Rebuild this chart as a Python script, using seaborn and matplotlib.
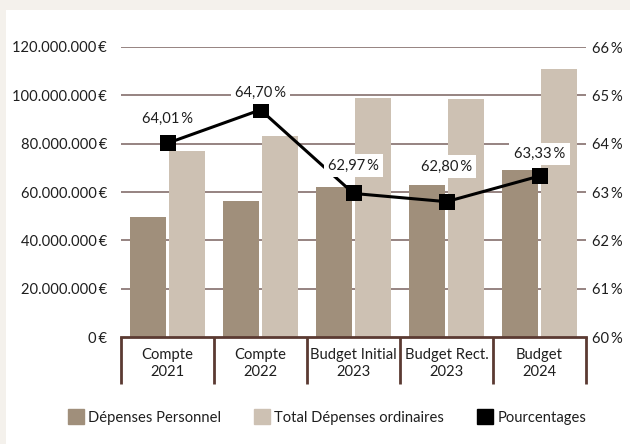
import matplotlib
matplotlib.use("Agg")
import matplotlib.pyplot as plt
import matplotlib.transforms as mtransforms
from matplotlib.patches import Rectangle, Patch
import seaborn as sns
import pandas as pd

categories = ["Compte\n2021", "Compte\n2022", "Budget Initial\n2023", "Budget Rect.\n2023", "Budget\n2024"]
depenses_personnel = [49.8e6, 56.3e6, 62.1e6, 62.7e6, 69.2e6]
total_depenses = [77.0e6, 83.2e6, 99.1e6, 98.6e6, 111.0e6]
pourcentages = [64.01, 64.70, 62.97, 62.80, 63.33]
left_ticks = [0, 20e6, 40e6, 60e6, 80e6, 100e6, 120e6]
right_ticks = [60, 61, 62, 63, 64, 65, 66]
series_names = ["Dépenses Personnel", "Total Dépenses ordinaires"]
line_name = "Pourcentages"
label_offsets_px = [24, 17, 28, 35, 22]

BG = "#f4f1ec"
DARK = "#a08f7b"
LIGHT = "#cdc1b3"
GRID = "#8e7a77"
AXIS = "#5b3a32"
TXT = "#1e1e1e"

sns.set_theme(style="white")
plt.rcParams["font.family"] = ["Lato", "DejaVu Sans"]
FS = 10.6

df = pd.DataFrame({
    "cat": categories * 2,
    "val": depenses_personnel + total_depenses,
    "serie": [series_names[0]] * 5 + [series_names[1]] * 5,
})

fig = plt.figure(figsize=(6.3, 4.44), dpi=100, facecolor=BG)
fig.patches.append(Rectangle((6 / 630, 0), 1, 1 - 10 / 444, transform=fig.transFigure,
                             facecolor="white", edgecolor="none", zorder=-10))
ax = fig.add_axes([121 / 630, 1 - 337 / 444, (586 - 121) / 630, (337 - 47) / 444])
ax.set_facecolor("none")

sns.barplot(data=df, x="cat", y="val", hue="serie", order=categories,
            hue_order=series_names, palette=[DARK, LIGHT], width=0.86, gap=0.1,
            saturation=1, edgecolor="none", linewidth=0, ax=ax, legend=False, zorder=3)

ax.set_xlim(-0.5, 4.5)
ax.set_ylim(0, 120e6)
ax.set_yticks(left_ticks)
ax.set_yticklabels([f"{v/1e6:,.0f}".replace(",", ".") + ".000.000\u2009€" if v > 0 else "0\u2009€" for v in left_ticks],
                   fontsize=FS, color=TXT)
ax.set_xlabel("")
ax.set_ylabel("")
for s in ["top", "left", "right"]:
    ax.spines[s].set_visible(False)
ax.spines["bottom"].set_color(AXIS)
ax.spines["bottom"].set_linewidth(2)
ax.spines["bottom"].set_zorder(6)
ax.tick_params(axis="y", length=0, pad=10)
ax.tick_params(axis="x", length=0, pad=8)
ax.set_xticks(range(len(categories)))
ax.set_xticklabels(categories, fontsize=FS, color=TXT, linespacing=1.28)
for v in left_ticks[1:]:
    ax.axhline(v, color=GRID, lw=1.3, zorder=1)

# separators below axis
trans = mtransforms.blended_transform_factory(ax.transData, ax.transAxes)
sep_h = 47 / (337 - 47)
for i in range(len(categories) + 1):
    ax.plot([i - 0.5, i - 0.5], [0, -sep_h], transform=trans, color=AXIS, lw=2,
            clip_on=False, solid_capstyle="butt", zorder=6)

ax2 = ax.twinx()
ax2.set_position(ax.get_position())
sns.lineplot(x=list(range(len(categories))), y=pourcentages, ax=ax2, color="black", lw=2.2,
             marker="s", markersize=11, markeredgewidth=0, zorder=5, legend=False)
ax2.set_ylim(60, 66)
ax2.set_xlim(-0.5, 4.5)
ax2.set_yticks(right_ticks)
ax2.set_yticklabels([f"{t}\u2009%" for t in right_ticks], fontsize=FS, color=TXT)
ax2.tick_params(axis="y", length=0, pad=4)
for s in ["top", "left", "right", "bottom"]:
    ax2.spines[s].set_visible(False)
ax2.set_ylabel("")

for i, (p, off) in enumerate(zip(pourcentages, label_offsets_px)):
    ax2.annotate(f"{p:.2f}".replace(".", ",") + "\u2009%", (i, p), xytext=(0, off * 0.72),
                 textcoords="offset points", ha="center", va="center", fontsize=FS, color=TXT,
                 bbox=dict(boxstyle="square,pad=0.3", fc="white", ec="none"), zorder=7)

handles = [Patch(color=DARK, label=series_names[0]),
           Patch(color=LIGHT, label=series_names[1]),
           Patch(color="black", label=line_name)]
fig.legend(handles=handles, loc="center", bbox_to_anchor=(327 / 630, 1 - 417 / 444), ncol=3,
           frameon=False, fontsize=FS, handlelength=1.1, handleheight=1.1, handletextpad=0.3,
           columnspacing=2.2, labelcolor=TXT)

fig.savefig("out.png", dpi=100, facecolor=BG)
